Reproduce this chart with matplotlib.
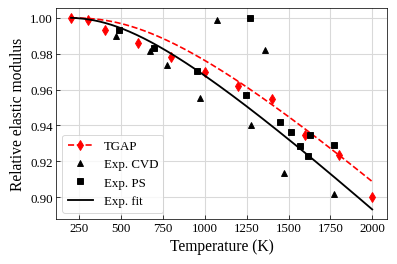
import numpy as np
import matplotlib.pyplot as plt
from matplotlib.lines import Line2D

plt.rcParams['font.family'] = ['Liberation Serif', 'DejaVu Serif']

# TGAP predictions
tgap_T = [200, 300, 400, 600, 800, 1000, 1200, 1400, 1600, 1800, 2000]
tgap_E = [1.000, 0.9985, 0.9934, 0.9858, 0.9783, 0.9700, 0.9620, 0.9546, 0.9346, 0.9233, 0.9002]

# experiments
cvd_T = [470, 669, 771, 972, 1072, 1273, 1359, 1473, 1774]
cvd_E = [0.9897, 0.9813, 0.9738, 0.9551, 0.9987, 0.9404, 0.9820, 0.9135, 0.9020]

ps_T = [488, 697, 954, 1243, 1267, 1447, 1517, 1569, 1617, 1631, 1774]
ps_E = [0.9934, 0.9833, 0.9704, 0.9570, 1.0000, 0.9417, 0.9364, 0.9284, 0.9232, 0.9346, 0.9289]

# Wachtman-type fits E = E0 - B*T*exp(-T0/T)
tgap_fit = (1.0000, 8.74e-5, 1300.0)
exp_fit = (1.0001, 8.81e-5, 1000.0)


def wachtman(T, p):
    E0, B, T0 = p
    return E0 - B * T * np.exp(-T0 / T)


T_line = np.linspace(200, 2000, 300)

fig = plt.figure(figsize=(6, 4), dpi=66.2)
ax = fig.add_axes([0.141, 0.170, 0.834, 0.796])

ax.plot(T_line, wachtman(T_line, tgap_fit), '--', color='red', lw=1.8)
ax.plot(tgap_T, tgap_E, 'd', color='red', ms=7.5, ls='none')
ax.plot(cvd_T, cvd_E, '^', color='black', ms=6.5, ls='none')
ax.plot(ps_T, ps_E, 's', color='black', ms=6, ls='none')
ax.plot(T_line, wachtman(T_line, exp_fit), '-', color='black', lw=2)

ax.grid(True, color='#d9d9d9', lw=1.2)
ax.set_axisbelow(True)
ax.set_xticks(np.arange(250, 2001, 250))
ax.set_yticks([0.90, 0.92, 0.94, 0.96, 0.98, 1.00])
ax.yaxis.set_major_formatter(plt.FormatStrFormatter('%.2f'))
ax.tick_params(direction='in', labelsize=14, length=4)
ax.set_xlabel('Temperature (K)', fontsize=17)
ax.set_ylabel('Relative elastic modulus', fontsize=17)

handles = [
    Line2D([], [], color='red', ls='--', lw=1.8, marker='d', ms=7.5),
    Line2D([], [], color='black', ls='none', marker='^', ms=6.5),
    Line2D([], [], color='black', ls='none', marker='s', ms=6),
    Line2D([], [], color='black', ls='-', lw=2),
]
ax.legend(handles, ['TGAP', 'Exp. CVD', 'Exp. PS', 'Exp. fit'],
          loc='lower left', fontsize=14, handlelength=2.0)

fig.savefig('out.png', dpi=66.2)
